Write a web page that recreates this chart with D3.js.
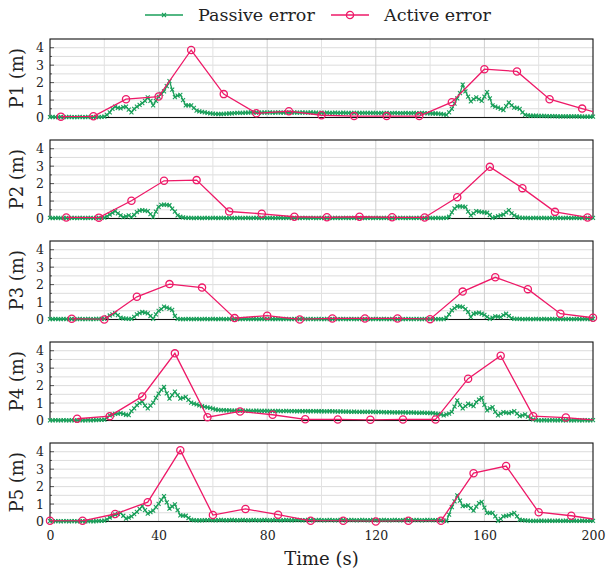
<!DOCTYPE html>
<html>
<head>
<meta charset="utf-8">
<script src="https://cdn.jsdelivr.net/npm/d3@7"></script>
<style>
  body { margin: 0; background: #fff; }
  text { font-family: "DejaVu Serif", serif; fill: #222; }
</style>
</head>
<body>
<div class="chart"></div>
<script>
const panelNames = ['P1', 'P2', 'P3', 'P4', 'P5'];
const legendLabels = ['Passive error', 'Active error'];
const xTicks = [0, 40, 80, 120, 160, 200];
const yTicks = [0, 1, 2, 3, 4];

// passive error, one sample per second, t = 0..200
const passiveTime = d3.range(0, 201);
const passiveP1 = [
  .02,.03,.02,.02,.03,.02,.02,.03,.02,.02, .02,.03,.02,.02,.03,.02,.02,.03,.02,.03,
  .05,.15,.30,.50,.62,.55,.52,.60,.62,.45, .30,.50,.62,.72,.82,.95,1.15,.95,.70,.95,
  1.20,1.35,1.50,1.80,2.08,1.60,1.17,1.25,1.30,1.00, .70,.70,.70,.55,.40,.35,.32,.30,.27,.24,
  .22,.21,.20,.20,.21,.22,.23,.24,.25,.26, .27,.27,.28,.28,.29,.28,.29,.28,.28,.29,
  .28,.29,.28,.28,.29,.28,.28,.29,.28,.28, .29,.28,.28,.29,.28,.28,.29,.28,.28,.27,
  .28,.27,.28,.27,.27,.28,.27,.27,.28,.27, .27,.26,.27,.26,.27,.26,.26,.27,.26,.26,
  .26,.25,.26,.25,.26,.25,.25,.26,.25,.25, .25,.26,.25,.25,.26,.25,.25,.26,.25,.24,
  .24,.23,.23,.22,.20,.18,.15,.30,.50,.80, 1.10,1.40,1.88,1.50,1.20,.92,1.05,1.15,1.05,.95,
  1.20,1.46,1.10,.69,.62,.57,.50,.43,.65,.86, .70,.57,.55,.50,.30,.15,.12,.10,.10,.10,
  .09,.09,.09,.08,.08,.08,.08,.07,.07,.07, .07,.06,.06,.06,.06,.06,.05,.05,.05,.05,
  .05
];
const passiveP2 = [
  .03,.02,.03,.03,.02,.03,.03,.02,.03,.03, .02,.03,.03,.02,.03,.03,.02,.03,.03,.04,
  .05,.12,.23,.33,.42,.30,.18,.08,.12,.18, .08,.20,.37,.45,.48,.45,.42,.25,.08,.40,
  .67,.78,.80,.78,.76,.57,.40,.18,.10,.06, .04,.03,.03,.02,.03,.03,.02,.03,.03,.02,
  .03,.03,.02,.03,.03,.02,.03,.03,.02,.03, .03,.02,.03,.03,.02,.03,.03,.02,.03,.03,
  .02,.03,.03,.02,.03,.03,.02,.03,.03,.02, .03,.03,.02,.03,.03,.02,.03,.03,.02,.03,
  .03,.02,.03,.03,.02,.03,.03,.02,.03,.03, .02,.03,.03,.02,.03,.03,.02,.03,.03,.02,
  .03,.03,.02,.03,.03,.02,.03,.03,.02,.03, .03,.02,.03,.03,.02,.03,.03,.02,.03,.03,
  .03,.02,.03,.03,.02,.03,.03,.10,.35,.58, .70,.70,.68,.67,.40,.18,.30,.42,.40,.37,
  .35,.33,.20,.03,.08,.13,.18,.23,.35,.48, .30,.18,.10,.05,.04,.03,.03,.02,.03,.03,
  .02,.03,.03,.02,.03,.03,.02,.03,.03,.02, .03,.03,.02,.03,.03,.02,.03,.03,.02,.03,
  .03
];
const passiveP3 = [
  .02,.02,.03,.02,.02,.03,.02,.02,.03,.02, .02,.03,.02,.02,.03,.02,.02,.03,.03,.04,
  .04,.12,.23,.30,.37,.25,.10,.06,.05,.04, .04,.15,.29,.36,.43,.40,.35,.20,.04,.30,
  .49,.60,.74,.68,.62,.55,.20,.03,.02,.02, .02,.03,.02,.02,.03,.02,.02,.03,.02,.02,
  .03,.02,.02,.03,.02,.02,.03,.02,.02,.03, .02,.02,.03,.02,.02,.03,.02,.02,.03,.02,
  .02,.03,.02,.02,.03,.02,.02,.03,.02,.02, .03,.02,.02,.03,.02,.02,.03,.02,.02,.03,
  .02,.02,.03,.02,.02,.03,.02,.02,.03,.02, .02,.03,.02,.02,.03,.02,.02,.03,.02,.02,
  .03,.02,.02,.03,.02,.02,.03,.02,.02,.03, .02,.02,.03,.02,.02,.03,.02,.02,.03,.02,
  .02,.02,.02,.02,.02,.02,.10,.30,.53,.65, .76,.74,.72,.60,.43,.14,.33,.36,.39,.33,
  .27,.15,.04,.10,.18,.16,.14,.25,.33,.20, .08,.04,.03,.03,.02,.02,.03,.02,.02,.03,
  .02,.02,.03,.02,.02,.03,.02,.02,.03,.02, .02,.03,.02,.02,.03,.02,.02,.03,.02,.02,
  .03
];
const passiveP4 = [
  .01,.01,.02,.01,.01,.02,.01,.01,.02,.01, .01,.02,.01,.01,.02,.01,.02,.02,.03,.04,
  .05,.15,.29,.33,.38,.40,.42,.38,.33,.31, .54,.70,.88,1.00,1.08,.85,.69,.85,1.02,1.30,
  1.54,1.75,1.92,1.55,1.25,1.45,1.65,1.45,1.25,1.30, 1.35,1.18,1.02,.97,.92,.87,.82,.78,.75,.72,
  .68,.63,.61,.60,.59,.58,.58,.57,.57,.56, .56,.56,.55,.56,.55,.55,.56,.55,.55,.55,
  .55,.54,.55,.54,.55,.54,.54,.55,.54,.54, .54,.53,.54,.53,.54,.53,.53,.54,.53,.53,
  .53,.52,.52,.53,.52,.52,.51,.52,.51,.51, .51,.50,.51,.50,.50,.49,.50,.49,.49,.49,
  .48,.49,.48,.48,.47,.48,.47,.47,.46,.47, .46,.46,.45,.46,.45,.45,.44,.45,.44,.44,
  .43,.42,.40,.38,.35,.29,.35,.40,.50,.80, 1.15,.90,.69,.82,.96,.89,.82,1.05,1.20,1.29,
  .90,.58,.70,.77,.50,.29,.40,.48,.45,.42, .48,.54,.40,.25,.30,.35,.22,.12,.06,.02,
  .01,.01,.02,.01,.01,.02,.01,.01,.02,.01, .01,.02,.01,.01,.02,.01,.01,.02,.01,.01,
  .02
];
const passiveP5 = [
  .02,.01,.02,.02,.01,.02,.02,.01,.02,.02, .01,.02,.02,.01,.02,.02,.01,.02,.03,.04,
  .05,.12,.23,.31,.39,.44,.49,.33,.16,.22, .29,.42,.55,.72,.88,.65,.45,.54,.62,.82,
  1.01,1.24,1.46,1.10,.74,.86,.98,.65,.35,.34, .33,.20,.10,.08,.07,.07,.07,.08,.08,.08,
  .08,.07,.08,.09,.08,.07,.08,.09,.08,.07, .08,.09,.08,.07,.08,.09,.08,.07,.08,.09,
  .08,.07,.08,.09,.08,.07,.08,.09,.08,.07, .08,.09,.08,.07,.08,.09,.08,.07,.08,.09,
  .08,.07,.08,.09,.08,.07,.08,.09,.08,.07, .08,.09,.08,.07,.08,.09,.08,.07,.08,.09,
  .08,.07,.08,.09,.08,.07,.08,.09,.08,.07, .08,.09,.08,.07,.08,.09,.08,.07,.08,.09,
  .08,.08,.08,.08,.07,.05,.02,.40,.82,1.15, 1.50,1.20,.88,.90,.92,.77,.62,.85,1.05,1.13,
  .80,.49,.49,.49,.30,.04,.15,.29,.32,.35, .42,.49,.30,.10,.08,.06,.05,.04,.04,.04,
  .04,.05,.04,.04,.05,.04,.04,.05,.04,.04, .05,.04,.04,.05,.04,.04,.05,.04,.04,.05,
  .04
];

// active error, sparse samples (last point may sit past the axis end)
const activeTimeP1 = [4,16,28,40,52,64,76,88,100,112,124,136,148,160,172,184,196,208];
const activeP1 = [0.05,0.07,1.05,1.2,3.87,1.34,0.24,0.36,0.13,0.08,0.08,0.08,0.88,2.77,2.64,1.05,0.51,0.0];
const activeTimeP2 = [6,18,30,42,54,66,78,90,102,114,126,138,150,162,174,186,198,210];
const activeP2 = [0.06,0.05,1.02,2.16,2.2,0.4,0.27,0.1,0.07,0.1,0.07,0.06,1.22,2.96,1.74,0.38,0.06,0.05];
const activeTimeP3 = [8,20,32,44,56,68,80,92,104,116,128,140,152,164,176,188,200];
const activeP3 = [0.04,0.0,1.3,2.03,1.83,0.08,0.22,0.0,0.06,0.06,0.06,0.02,1.6,2.42,1.74,0.33,0.1];
const activeTimeP4 = [10,22,34,46,58,70,82,94,106,118,130,142,154,166,178,190,202];
const activeP4 = [0.1,0.25,1.38,3.85,0.19,0.52,0.33,0.07,0.06,0.04,0.06,0.06,2.4,3.71,0.25,0.17,0.0];
const activeTimeP5 = [0,12,24,36,48,60,72,84,96,108,120,132,144,156,168,180,192,204];
const activeP5 = [0.04,0.04,0.43,1.11,4.09,0.37,0.72,0.39,0.04,0.04,0.0,0.04,0.04,2.77,3.18,0.53,0.33,0.05];

const passiveSeries = [passiveP1, passiveP2, passiveP3, passiveP4, passiveP5];
const activeTimes = [activeTimeP1, activeTimeP2, activeTimeP3, activeTimeP4, activeTimeP5];
const activeSeries = [activeP1, activeP2, activeP3, activeP4, activeP5];

const green = '#1a9f5a';
const pink = '#ee1a68';

const width = 606, height = 572;
const margin = {left: 50, right: 13, top: 39};
const panelH = 78.5, panelStep = 101;

const x = d3.scaleLinear().domain([0, 200]).range([margin.left, width - margin.right]);
const y = d3.scaleLinear().domain([0, 4.5]).range([panelH, 0]);

const svg = d3.select('.chart').append('svg')
    .attr('width', width)
    .attr('height', height);

const defs = svg.append('defs');
defs.append('clipPath').attr('id', 'plot-clip')
  .append('rect')
    .attr('x', x(0)).attr('y', 0)
    .attr('width', x(200) - x(0)).attr('height', panelH);

const line = d3.line()
  .x(d => x(d[0]))
  .y(d => y(d[1]));

panelNames.forEach((name, i) => {
  const g = svg.append('g')
      .attr('transform', `translate(0, ${margin.top + i * panelStep})`);

  // grid
  g.append('g').selectAll('line')
    .data(d3.range(0.5, 4.5, 0.5))
    .enter().append('line')
      .attr('x1', x(0)).attr('x2', x(200))
      .attr('y1', d => y(d)).attr('y2', d => y(d))
      .attr('stroke', '#dcdcdc')
      .attr('stroke-width', 1);
  g.append('g').selectAll('line')
    .data(d3.range(20, 200, 20))
    .enter().append('line')
      .attr('x1', d => x(d)).attr('x2', d => x(d))
      .attr('y1', 0).attr('y2', panelH)
      .attr('stroke', d => d % 40 === 0 ? '#cfcfcf' : '#e2e2e2')
      .attr('stroke-width', 1);

  // ticks inside the frame
  g.append('g').selectAll('line')
    .data(d3.range(0, 4.5, 0.5))
    .enter().append('line')
      .attr('x1', x(0)).attr('x2', d => x(0) + (d % 1 === 0 ? 4 : 2))
      .attr('y1', d => y(d)).attr('y2', d => y(d))
      .attr('stroke', '#555');

  // frame
  g.append('rect')
    .attr('x', x(0)).attr('y', 0)
    .attr('width', x(200) - x(0)).attr('height', panelH)
    .attr('fill', 'none')
    .attr('stroke', '#111')
    .attr('stroke-width', 1.1);

  // y axis labels
  const yAxis = d3.axisLeft(y).tickValues(yTicks).tickSize(0).tickPadding(6).tickFormat(d3.format('d'));
  const gy = g.append('g')
      .attr('transform', `translate(${x(0)}, 0)`)
      .call(yAxis);
  gy.select('.domain').remove();
  gy.selectAll('text')
      .attr('font-family', '"DejaVu Serif", serif')
      .attr('font-size', 12.5)
      .attr('fill', '#222');

  g.append('text')
      .attr('transform', `translate(23, ${panelH / 2}) rotate(-90)`)
      .attr('text-anchor', 'middle')
      .attr('font-size', 18)
      .text(`${name} (m)`);

  // passive error
  const passive = passiveTime.map((t, k) => [t, passiveSeries[i][k]]);
  g.append('path')
      .attr('d', line(passive))
      .attr('fill', 'none')
      .attr('stroke', green)
      .attr('stroke-width', 1.3);
  g.append('g').selectAll('path')
    .data(passive)
    .enter().append('path')
      .attr('transform', d => `translate(${x(d[0])}, ${y(d[1])})`)
      .attr('d', 'M-2,-2L2,2M-2,2L2,-2')
      .attr('stroke', green)
      .attr('stroke-width', 1.1);

  // active error
  const active = activeTimes[i].map((t, k) => [t, activeSeries[i][k]]);
  g.append('path')
      .attr('clip-path', 'url(#plot-clip)')
      .attr('d', line(active))
      .attr('fill', 'none')
      .attr('stroke', pink)
      .attr('stroke-width', 1.3);
  g.append('g').selectAll('circle')
    .data(active.filter(d => d[0] <= 200))
    .enter().append('circle')
      .attr('cx', d => x(d[0]))
      .attr('cy', d => y(d[1]))
      .attr('r', 3.6)
      .attr('fill', 'none')
      .attr('stroke', pink)
      .attr('stroke-width', 1.3);

  // x tick labels on the bottom panel only
  if (i === panelNames.length - 1) {
    const xAxis = d3.axisBottom(x).tickValues(xTicks).tickSize(0).tickPadding(10);
    const gx = g.append('g')
        .attr('transform', `translate(0, ${panelH})`)
        .call(xAxis);
    gx.select('.domain').remove();
    gx.selectAll('text')
        .attr('font-family', '"DejaVu Serif", serif')
        .attr('font-size', 12.5)
        .attr('fill', '#222');
  }
});

svg.append('text')
    .attr('x', (x(0) + x(200)) / 2)
    .attr('y', 565)
    .attr('text-anchor', 'middle')
    .attr('font-size', 18)
    .text('Time (s)');

// legend
const legend = svg.append('g');
const legendX = [145, 331];
legendLabels.forEach((label, i) => {
  const lg = legend.append('g').attr('transform', `translate(${legendX[i]}, 15)`);
  lg.append('line')
      .attr('x1', 0).attr('x2', 38)
      .attr('stroke', i === 0 ? green : pink)
      .attr('stroke-width', 1.3);
  if (i === 0) {
    lg.append('path')
        .attr('transform', 'translate(19, 0)')
        .attr('d', 'M-2,-2L2,2M-2,2L2,-2')
        .attr('stroke', green)
        .attr('stroke-width', 1.1);
  } else {
    lg.append('circle')
        .attr('cx', 19).attr('r', 3.6)
        .attr('fill', 'none')
        .attr('stroke', pink)
        .attr('stroke-width', 1.3);
  }
  lg.append('text')
      .attr('x', 53)
      .attr('y', 6)
      .attr('font-size', 17.5)
      .text(label);
});
</script>
</body>
</html>
